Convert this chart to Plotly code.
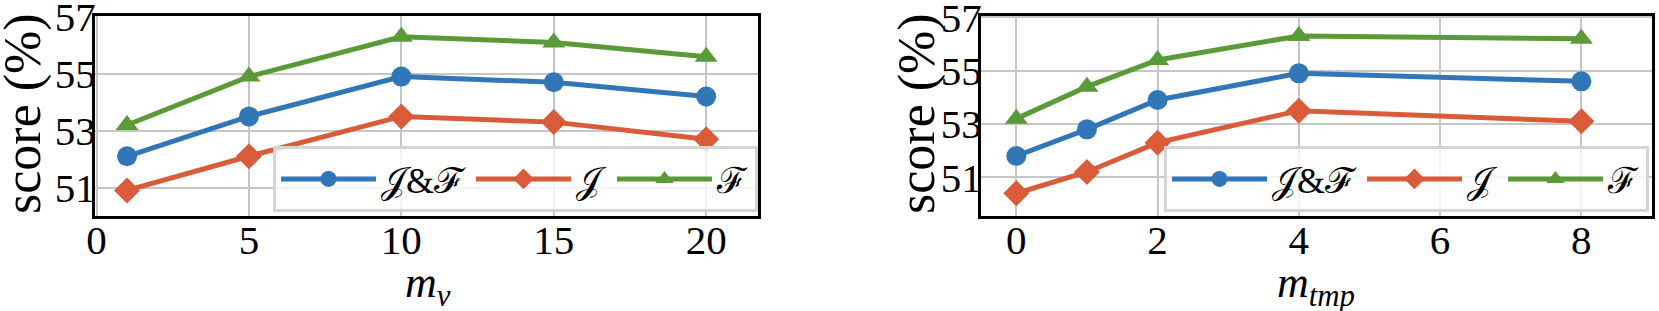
import plotly.graph_objects as go

# ---- data ----
mv = [1, 5, 10, 15, 20]
mv_jf = [52.1, 53.5, 54.9, 54.7, 54.2]
mv_j = [50.9, 52.1, 53.5, 53.3, 52.7]
mv_f = [53.2, 54.9, 56.3, 56.1, 55.6]

mtmp = [0, 1, 2, 4, 8]
mt_jf = [51.8, 52.8, 53.9, 54.9, 54.6]
mt_j = [50.4, 51.2, 52.3, 53.5, 53.1]
mt_f = [53.2, 54.4, 55.4, 56.3, 56.2]

names = ["\U0001D4A5&\u2131", "\U0001D4A5", "\u2131"]
colors = ["#3176B7", "#D95B3A", "#5B9A38"]
symbols = ["circle", "diamond", "triangle-up"]

W, H = 1659, 311
FONT = "Liberation Serif, Times New Roman, Times, serif"

fig = go.Figure()

def add_panel(x, series, xa, ya, legend):
    for s, name, c, sym in zip(series, names, colors, symbols):
        fig.add_trace(go.Scatter(
            x=x, y=s, name=name, mode="lines+markers",
            line=dict(color=c, width=5),
            marker=dict(symbol=sym, size=20, color=c),
            xaxis=xa, yaxis=ya, legend=legend, cliponaxis=False,
        ))

add_panel(mv, [mv_jf, mv_j, mv_f], "x", "y", "legend")
add_panel(mtmp, [mt_jf, mt_j, mt_f], "x2", "y2", "legend2")

def px_x(p):
    return p / W

def px_y(p):
    return 1 - p / H

def axis(**kw):
    d = dict(
        showline=True, mirror=True, linecolor="black", linewidth=3,
        showgrid=True, gridcolor="#c6c6c6", gridwidth=1.5, zeroline=False,
        ticks="", ticklen=0, ticklabeloverflow="allow", automargin=False,
        tickfont=dict(family=FONT, size=41, color="black"),
    )
    d.update(kw)
    return d

def legend(x):
    return dict(
        x=x, y=px_y(212), orientation="h", xanchor="right", yanchor="bottom",
        bgcolor="rgba(255,255,255,0.8)", bordercolor="#d4d4d4", borderwidth=3,
        font=dict(family=FONT, size=36, color="black"),
        itemwidth=95, tracegroupgap=0,
    )

XSO, YSO = -14, -12

fig.update_layout(
    width=W, height=H,
    margin=dict(l=0, r=0, t=0, b=0),
    paper_bgcolor="white", plot_bgcolor="white",
    font=dict(family=FONT, size=40, color="black"),
    showlegend=True,
    xaxis=axis(domain=[px_x(95), px_x(758)], range=[-0.05, 21.7],
               tickvals=[0, 5, 10, 15, 20], anchor="y", ticklabelstandoff=XSO),
    yaxis=axis(domain=[px_y(216), px_y(16)], range=[50.0, 57.03],
               tickvals=[51, 53, 55, 57], anchor="x", ticklabelstandoff=YSO),
    xaxis2=axis(domain=[px_x(981), px_x(1652)], range=[-0.5, 9.0],
                tickvals=[0, 2, 4, 6, 8], anchor="y2", ticklabelstandoff=XSO),
    yaxis2=axis(domain=[px_y(216), px_y(16)], range=[49.55, 57.05],
                tickvals=[51, 53, 55, 57], anchor="x2", ticklabelstandoff=YSO),
    legend=legend(px_x(758)),
    legend2=legend(px_x(1649)),
)

ann = []
for cx in (23, 917):
    ann.append(dict(text="score (%)", x=px_x(cx), y=px_y(114), xref="paper", yref="paper",
                    showarrow=False, textangle=-90, xanchor="center", yanchor="middle",
                    font=dict(family=FONT, size=52, color="black")))
ann.append(dict(text="<i>m</i><sub><i>v</i></sub>", x=px_x(428), y=px_y(285), xref="paper", yref="paper",
                showarrow=False, xanchor="center", yanchor="middle",
                font=dict(family=FONT, size=44, color="black")))
ann.append(dict(text="<i>m</i><sub><i>tmp</i></sub>", x=px_x(1316), y=px_y(285), xref="paper", yref="paper",
                showarrow=False, xanchor="center", yanchor="middle",
                font=dict(family=FONT, size=44, color="black")))
fig.update_layout(annotations=ann)

fig.write_html("out.html", config={"displayModeBar": False},
               post_script="document.body.style.margin='0px';")
